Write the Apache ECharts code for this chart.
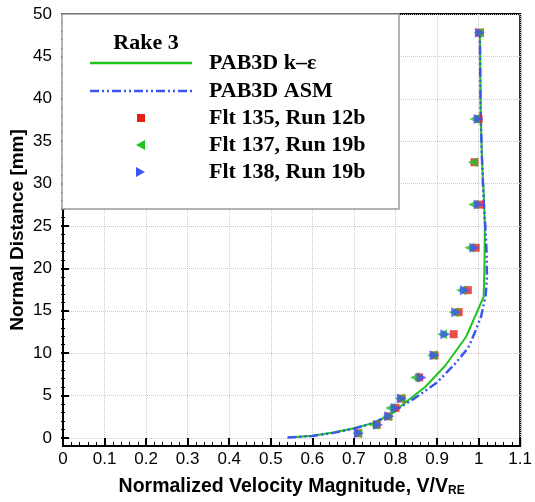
<!DOCTYPE html>
<html>
<head>
<meta charset="utf-8">
<script src="https://cdn.jsdelivr.net/npm/echarts@6/dist/echarts.min.js"></script>
<style>
html,body{margin:0;padding:0;background:#fff;}
#c{width:535px;height:502px;}
</style>
</head>
<body>
<div id="c"></div>
<script>
// PAB3D k-epsilon curve
const kepsV = [0.544, 0.60, 0.65, 0.70, 0.745, 0.785, 0.823, 0.872, 0.920, 0.970, 1.012, 1.014, 1.015, 1.013, 1.008, 1.005, 1.003];
const kepsD = [0.0, 0.2, 0.6, 1.1, 1.7, 2.6, 4.1, 6.0, 8.5, 11.9, 16.6, 20.0, 25.0, 28.0, 33.0, 38.0, 47.8];
// PAB3D ASM curve
const asmV = [0.540, 0.60, 0.65, 0.70, 0.75, 0.79, 0.815, 0.845, 0.900, 0.945, 0.975, 0.990, 1.006, 1.017, 1.020, 1.019, 1.016, 1.012, 1.008, 1.005, 1.003];
const asmD = [0.0, 0.18, 0.55, 1.05, 1.75, 2.8, 3.7, 4.6, 6.5, 8.8, 10.6, 12.3, 14.3, 16.8, 19.0, 22.0, 25.0, 28.0, 33.0, 38.0, 47.8];
// Flight data
const f135V = [0.710, 0.755, 0.783, 0.800, 0.815, 0.857, 0.894, 0.940, 0.952, 0.974, 0.993, 1.002, 0.990, 1.000, 1.003];
const f135D = [0.5, 1.5, 2.5, 3.5, 4.6, 7.1, 9.7, 12.2, 14.8, 17.4, 22.4, 27.5, 32.5, 37.6, 47.8];
const f137V = [0.708, 0.748, 0.780, 0.787, 0.810, 0.847, 0.888, 0.912, 0.940, 0.958, 0.978, 0.987, 0.986, 0.990, 1.000];
const f137D = [0.5, 1.5, 2.5, 3.5, 4.6, 7.1, 9.7, 12.2, 14.8, 17.4, 22.4, 27.5, 32.5, 37.6, 47.8];
const f138V = [0.712, 0.758, 0.785, 0.800, 0.815, 0.863, 0.894, 0.920, 0.946, 0.967, 0.990, 1.000, 1.000, 1.003];
const f138D = [0.5, 1.5, 2.5, 3.5, 4.6, 7.1, 9.7, 12.2, 14.8, 17.4, 22.4, 27.5, 37.6, 47.8];
// legend texts
const legendTitle = 'Rake 3';
const legendNames = ['PAB3D k\u2013\u03b5', 'PAB3D ASM', 'Flt 135, Run 12b', 'Flt 137, Run 19b', 'Flt 138, Run 19b'];

const zip = (a, b) => a.map((v, i) => [v, b[i]]);
const GREEN = '#1fc41f', BLUE = '#3d55f5', RED = '#e3231b';
const SANS = 'Liberation Sans, Arial, sans-serif';
const SERIF = 'Liberation Serif, Times New Roman, serif';
const ASMDASH = [9, 3, 2, 3, 2, 3];

const chart = echarts.init(document.getElementById('c'), null, {renderer: 'canvas'});
const gridLine = {show: true, lineStyle: {color: '#c8c8c8', type: 'dotted', width: 1}};

const legendRows = [63, 91, 118, 145, 172];
const graphics = [
  {type: 'rect', shape: {x: 62, y: 14, width: 337, height: 195}, style: {fill: '#fff', stroke: '#9a9a9a', lineWidth: 1.5}, z: 100},
  {type: 'text', x: 146, y: 43, style: {text: legendTitle, font: 'bold 22px ' + SERIF, fill: '#000', align: 'center', verticalAlign: 'middle'}, z: 101},
  {type: 'line', shape: {x1: 90, y1: legendRows[0], x2: 192, y2: legendRows[0]}, style: {stroke: GREEN, lineWidth: 2.5}, z: 101},
  {type: 'line', shape: {x1: 90, y1: legendRows[1], x2: 192, y2: legendRows[1]}, style: {stroke: BLUE, lineWidth: 2.5, lineDash: ASMDASH}, z: 101},
  {type: 'rect', shape: {x: 137, y: legendRows[2] - 4, width: 8, height: 8}, style: {fill: RED}, z: 101},
  {type: 'polygon', shape: {points: [[136, legendRows[3]], [145, legendRows[3] - 5], [145, legendRows[3] + 5]]}, style: {fill: GREEN}, z: 101},
  {type: 'polygon', shape: {points: [[145, legendRows[4]], [136, legendRows[4] - 5], [136, legendRows[4] + 5]]}, style: {fill: BLUE}, z: 101}
];
legendNames.forEach((n, i) => {
  graphics.push({type: 'text', x: 209, y: legendRows[i], style: {text: n, font: 'bold 22px ' + SERIF, fill: '#000', verticalAlign: 'middle'}, z: 101});
});

chart.setOption({
  animation: false,
  backgroundColor: '#fff',
  grid: [
    {left: 61, right: 12, top: 14, bottom: 55, show: true, borderColor: '#000', borderWidth: 2, backgroundColor: 'transparent'},
    {left: 61, right: 12, top: 14, bottom: 64, show: false}
  ],
  xAxis: [
    {type: 'value', gridIndex: 0, min: 0, max: 1.1, interval: 0.1,
     name: 'Normalized Velocity Magnitude, V/V{sub|RE}', nameLocation: 'middle', nameGap: 30,
     nameTextStyle: {fontFamily: SANS, fontWeight: 'bold', fontSize: 19.5, color: '#000',
       rich: {sub: {fontFamily: SANS, fontWeight: 'bold', fontSize: 12, color: '#000', padding: [9, 0, 0, 0]}}},
     axisLine: {show: true, onZero: false, lineStyle: {color: '#000', width: 2}},
     axisTick: {show: true, inside: true, length: 8, lineStyle: {color: '#000', width: 2}},
     minorTick: {show: true, splitNumber: 5, length: 4, lineStyle: {color: '#000', width: 1}},
     axisLabel: {fontFamily: SANS, fontSize: 17, color: '#000', margin: 5,
       formatter: v => String(Math.round(v * 10) / 10)},
     splitLine: gridLine},
    {type: 'value', gridIndex: 1, min: 0, max: 1.1, show: false}
  ],
  yAxis: [
    {type: 'value', gridIndex: 0, min: -1, max: 50,
     name: 'Normal Distance [mm]', nameLocation: 'middle', nameGap: 36,
     nameTextStyle: {fontFamily: SANS, fontWeight: 'bold', fontSize: 19, color: '#000'},
     axisLine: {show: true, onZero: false, lineStyle: {color: '#000', width: 2}},
     axisTick: {show: false}, axisLabel: {show: false}, splitLine: {show: false}},
    {type: 'value', gridIndex: 1, min: 0, max: 50, interval: 5,
     axisLine: {show: false},
     axisTick: {show: true, inside: true, length: 8, lineStyle: {color: '#000', width: 2}},
     minorTick: {show: true, splitNumber: 5, length: 4, lineStyle: {color: '#000', width: 1}},
     axisLabel: {fontFamily: SANS, fontSize: 17, color: '#000', margin: 9},
     splitLine: gridLine}
  ],
  graphic: graphics,
  series: [
    {type: 'line', xAxisIndex: 0, yAxisIndex: 0, data: zip(kepsV, kepsD), symbol: 'none', z: 3,
     lineStyle: {color: GREEN, width: 2}},
    {type: 'line', xAxisIndex: 0, yAxisIndex: 0, data: zip(asmV, asmD), symbol: 'none', z: 3,
     lineStyle: {color: BLUE, width: 2.5, type: ASMDASH}},
    {type: 'scatter', xAxisIndex: 0, yAxisIndex: 0, data: zip(f135V, f135D), symbol: 'rect', symbolSize: 8, z: 4,
     itemStyle: {color: RED}},
    {type: 'scatter', xAxisIndex: 0, yAxisIndex: 0, data: zip(f137V, f137D), symbol: 'triangle', symbolRotate: 90, symbolSize: 10, z: 5,
     itemStyle: {color: GREEN}},
    {type: 'scatter', xAxisIndex: 0, yAxisIndex: 0, data: zip(f138V, f138D), symbol: 'triangle', symbolRotate: -90, symbolSize: 10, z: 6,
     itemStyle: {color: BLUE}}
  ]
});
</script>
</body>
</html>
